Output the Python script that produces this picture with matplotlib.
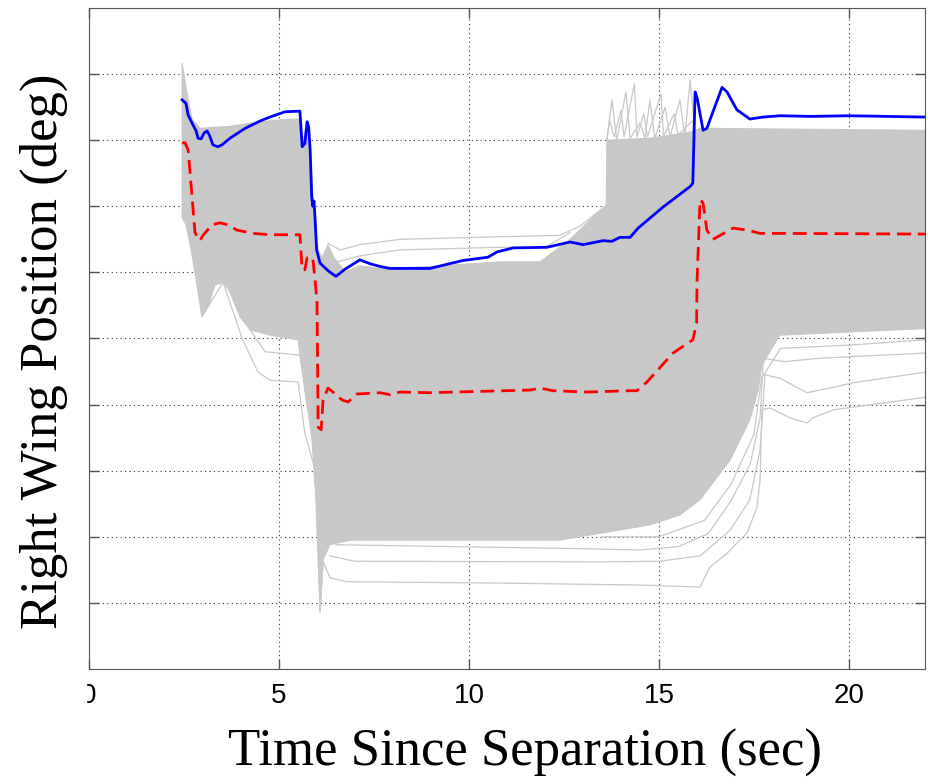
import matplotlib
matplotlib.use('Agg')
import matplotlib.pyplot as plt
import numpy as np

# blue run (worst-case / upper trace)
blue_t = [2.45, 2.55, 2.61, 2.71, 2.82, 2.87, 2.95, 3.03, 3.11, 3.18, 3.26, 3.39, 3.50, 3.71, 4.11,
          4.50, 4.76, 5.16, 5.55, 5.61, 5.68, 5.74, 5.78, 5.82, 5.86, 5.89, 5.92, 5.95, 5.99, 6.08,
          6.30, 6.50, 6.74, 7.13, 7.40, 7.66, 7.92, 8.97, 9.84, 10.5, 10.74, 11.16, 12.05, 12.66,
          13.0, 13.53, 13.76, 13.97, 14.24, 14.45, 15.11, 15.82, 15.89, 15.95, 16.0, 16.16, 16.26,
          16.42, 16.66, 16.79, 17.05, 17.39, 17.74, 18.18, 19.0, 20.0, 22.0]
blue_v = [86.1, 85.6, 83.8, 82.6, 81.4, 80.3, 80.2, 81.1, 81.4, 80.6, 79.3, 79.0, 79.3, 80.3, 81.8,
          82.9, 83.5, 84.3, 84.4, 79.0, 79.5, 82.8, 82.0, 78.5, 71.5, 70.0, 70.8, 68.0, 63.4, 61.4,
          60.2, 59.4, 60.5, 61.9, 61.3, 60.9, 60.6, 60.6, 61.8, 62.3, 63.1, 63.7, 63.8, 64.6,
          64.2, 64.8, 64.7, 65.3, 65.3, 66.7, 69.9, 73.0, 73.5, 87.3, 86.5, 81.5, 81.8,
          84.3, 88.0, 87.3, 84.6, 83.2, 83.5, 83.7, 83.6, 83.7, 83.5]

# red dashed run (mean / nominal trace)
red_t = [2.45, 2.53, 2.61, 2.79, 2.92, 3.0, 3.24, 3.45, 3.66, 3.89, 4.32, 4.76, 5.55, 5.61, 5.68,
         5.74, 5.89, 6.0, 6.03, 6.11, 6.16, 6.29, 6.42, 6.66, 6.82, 7.05, 7.66, 7.92, 8.18, 8.97,
         11.61, 11.87, 12.21, 13.1, 14.24, 14.42, 14.68, 15.37, 15.89, 15.99, 16.0, 16.08, 16.16,
         16.26, 16.42, 16.61, 16.95, 17.32, 17.66, 18.18, 22.0]
red_v = [79.6, 79.6, 78.5, 66.0, 64.8, 65.6, 67.2, 67.5, 67.2, 66.4, 65.9, 65.7, 65.7, 60.4, 60.4,
         62.2, 62.2, 55.8, 36.6, 36.2, 40.7, 42.5, 41.9, 40.7, 40.4, 41.6, 41.8, 41.5, 41.9, 41.8,
         42.2, 42.5, 42.1, 41.9, 42.1, 42.1, 43.4, 47.8, 49.8, 52.3, 58.4, 71.0, 70.5,
         66.4, 65.0, 65.6, 66.7, 66.4, 65.9, 65.9, 65.8]

# envelope of the dense Monte Carlo runs
env_up_t = [2.45, 2.50, 2.61, 2.71, 2.92, 3.71, 4.50, 5.29, 5.55, 5.63, 5.71, 5.82, 5.92, 6.03,
            6.13, 6.29, 6.45, 6.74, 7.13, 7.66, 8.97, 10.82, 11.87, 12.66, 13.45, 13.61, 13.63,
            14.76, 15.82, 16.08, 22.0]
env_up_v = [91.7, 89.9, 86.1, 83.2, 81.8, 82.1, 82.8, 83.2, 83.2, 80.0, 81.8, 78.5, 69.4, 63.4,
            62.2, 64.2, 62.2, 60.1, 61.0, 60.6, 60.9, 61.6, 61.6, 65.0, 69.4, 70.2, 80.0,
            80.3, 81.2, 81.8, 81.5]
env_lo_t = [2.45, 2.55, 2.66, 2.82, 2.97, 3.13, 3.32, 3.53, 3.71, 3.97, 4.24, 4.76, 5.50, 5.68,
            5.87, 5.97, 6.08, 6.16, 6.34, 6.87, 9.5, 12.39, 14.76, 15.55, 16.08, 16.87, 17.39,
            17.61, 17.71, 18.18, 22.0]
env_lo_v = [68.4, 67.2, 64.3, 58.9, 53.3, 54.8, 58.1, 58.5, 57.0, 53.3, 51.3, 50.5, 49.8, 42.2,
            34.6, 25.6, 8.6, 16.5, 18.8, 19.5, 19.5, 19.5, 21.8, 23.3, 25.6, 31.6, 37.7,
            42.2, 46.0, 50.5, 51.5]

# a few individual outlying runs
runs = [
    ([6.08, 6.16, 6.34, 6.79, 10.82, 14.5, 16.08, 16.34, 16.79, 17.32, 17.58, 17.66, 17.71, 17.92,
      18.45, 18.89, 19.05, 19.58, 22.0],
     [8.6, 16.3, 13.8, 13.2, 13.0, 12.7, 12.4, 15.4, 17.5, 20.6, 24.5, 28.6, 39.2, 39.5,
      38.0, 37.2, 38.0, 39.2, 41.1]),
    ([6.34, 7.0, 13.45, 15.0, 16.08, 16.87, 17.39, 17.66, 17.79, 18.18, 18.89, 19.5, 20.1, 22.0],
     [17.1, 16.3, 16.2, 16.3, 17.1, 21.0, 25.6, 33.1, 44.5, 44.0, 41.8, 42.5, 43.3, 44.9]),
    ([6.5, 13.0, 14.5, 15.5, 16.3, 16.9, 17.4, 17.66, 17.75, 18.3, 19.2, 22.0],
     [18.8, 18.2, 18.0, 18.5, 20.5, 25.5, 31.0, 38.0, 47.0, 46.5, 47.0, 47.8]),
    ([13.5, 15.0, 16.2, 16.9, 17.5, 17.7, 18.2, 20.0, 22.0],
     [20.0, 20.0, 22.5, 28.0, 35.5, 44.0, 48.5, 49.0, 49.8]),
    ([2.97, 3.53, 4.03, 4.45, 4.76, 5.50, 5.68, 5.95],
     [53.3, 58.5, 50.0, 44.9, 43.7, 43.4, 35.7, 30.1]),
    ([4.24, 4.63, 5.55, 5.76],
     [51.3, 48.0, 47.5, 39.5]),
    ([6.29, 6.61, 7.13, 8.18, 10.82, 12.39, 12.92, 13.45],
     [64.4, 63.4, 64.2, 65.0, 65.4, 65.6, 67.0, 69.4]),
    ([6.47, 7.13, 8.18, 10.82, 12.0, 12.66],
     [61.5, 62.5, 63.4, 63.8, 63.8, 66.0]),
    ([13.63, 13.76, 13.89, 14.13, 14.24, 14.50, 14.63, 14.76, 14.89, 15.16, 15.29, 15.55, 15.68,
      15.82, 15.95],
     [80.0, 86.1, 80.0, 87.3, 80.3, 82.6, 80.3, 86.1, 80.3, 85.0, 80.5, 86.1, 80.6, 89.1, 81.0]),
    ([13.63, 13.7, 13.82, 14.0, 14.08, 14.35, 14.42, 14.6, 14.7, 15.05, 15.12, 15.4, 15.5, 15.9],
     [80.0, 83.0, 80.5, 84.5, 80.5, 88.5, 80.5, 84.0, 80.5, 87.0, 80.6, 84.0, 80.8, 83.0]),
]

gray = '#c8c8c8'

fig = plt.figure(figsize=(9.29, 7.84), dpi=100)
ax = fig.add_axes([89/929, 115/784, 836/929, 661/784])

poly_t = env_up_t + env_lo_t[::-1]
poly_v = env_up_v + env_lo_v[::-1]
ax.fill(poly_t, poly_v, color=gray, lw=0.8, ec=gray, zorder=2)
for rt, rv in runs:
    ax.plot(rt, rv, color=gray, lw=0.9, zorder=2)

ax.plot(red_t, red_v, color='#ff0000', lw=2.0, ls=(0, (5, 2.5)), zorder=3)
ax.plot(blue_t, blue_v, color='#0000ff', lw=2.0, zorder=4)

ax.set_xlim(0, 22)
ax.set_ylim(0, 100)
ax.set_xticks([0, 5, 10, 15, 20])
ax.set_yticks(np.arange(10, 100, 10))
ax.set_yticklabels([])
ax.set_axisbelow(True)
ax.grid(True, color='#333333', ls=(0, (1, 3)), lw=0.8)
ax.tick_params(direction='in', length=7, width=1, top=True, right=True,
               labelsize=20, pad=10, color='#555555')
for lab in ax.get_xticklabels():
    lab.set_fontfamily('Liberation Sans')
for s in ax.spines.values():
    s.set_color('#555555')

ax.set_xlabel('Time Since Separation (sec)', fontsize=38, family='Liberation Serif')
ax.xaxis.set_label_coords(0.5215, -0.09)
ax.set_ylabel('Right Wing Position (deg)', fontsize=38, family='Liberation Serif')
ax.yaxis.set_label_coords(-0.025, 0.48)

# the original picture is cropped just left of the axis
fig.patches.append(plt.Rectangle((0, 0.08), 86/929, 0.06, transform=fig.transFigure,
                                 color='white', zorder=10))

fig.savefig('out.png', dpi=100)
